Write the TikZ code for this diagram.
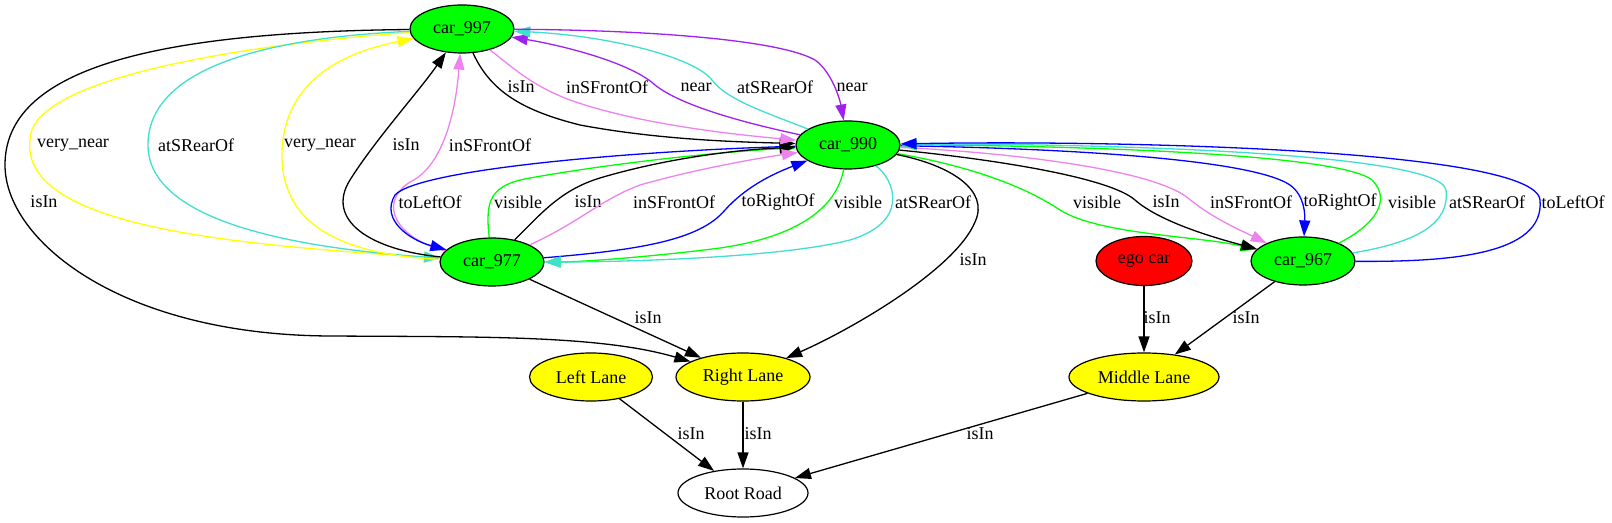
\documentclass[tikz,border=0pt]{standalone}
\usepackage{fontspec}
\setmainfont{Liberation Serif}
\usetikzlibrary{shapes.geometric, arrows.meta}
\definecolor{gvgreen}{HTML}{00FF00}
\definecolor{gvyellow}{HTML}{FFFF00}
\definecolor{gvred}{HTML}{FF0000}
\definecolor{gvturq}{HTML}{40E0D0}
\definecolor{gvviolet}{HTML}{EE82EE}
\definecolor{gvpurple}{HTML}{A020F0}
\definecolor{gvblue}{HTML}{0000FF}

\begin{document}
\begin{tikzpicture}[
    x=0.5pt, y=0.5pt,
    >={Triangle[length=8pt,width=5.5pt]},
    font=\fontsize{9}{11}\selectfont,
    base/.style={draw, ellipse, line width=0.6pt, inner sep=0pt, minimum height=24pt},
    car/.style={base, fill=gvgreen, minimum width=52pt},
    ego/.style={base, fill=gvred, minimum width=48pt, minimum height=24.5pt},
    lane/.style={base, fill=gvyellow},
    road/.style={base, fill=white, minimum width=65pt},
    rel/.style={->, line width=0.65pt},
    lbl/.style={text=black, inner sep=1pt}
  ]
    \path[use as bounding box, fill=white] (0,0) rectangle (1612,-523);
    \node[car] (car997) at (462,-29) {car\_997};
    \node[car] (car990) at (848,-145) {car\_990};
    \node[car] (car977) at (492,-262) {car\_977};
    \node[car] (car967) at (1303,-261) {car\_967};
    \node[ego] (egocar) at (1144,-261) {ego car};
    \node[lane, minimum width=61.5pt] (leftlane) at (591,-377) {Left Lane};
    \node[lane, minimum width=67pt] (rightlane) at (743,-377) {Right Lane};
    \node[lane, minimum width=75pt] (middlelane) at (1144,-377) {Middle Lane};
    \node[road] (rootroad) at (743,-493) {Root Road};
    \draw[rel] (car997) .. controls (150,-32) and (5,-70) .. (5,-165) .. controls (5,-240) and (120,-335) .. (330,-336) .. controls (480,-337) and (600,-335) .. (rightlane) node[lbl] at (44,-202) {isIn};
    \draw[rel, gvyellow] (car997) .. controls (300,-40) and (30,-70) .. (30,-140) .. controls (20,-230) and (250,-245) .. (car977) node[lbl] at (73,-145) {very\_near};
    \draw[rel, gvturq] (car997) .. controls (260,-38) and (148,-70) .. (148,-145) .. controls (148,-230) and (330,-250) .. (car977) node[lbl] at (196,-145) {atSRearOf};
    \draw[rel, gvyellow] (car977) .. controls (350,-255) and (285,-230) .. (282,-160) .. controls (280,-90) and (330,-55) .. (car997) node[lbl] at (320,-145) {very\_near};
    \draw[rel] (car977) .. controls (370,-250) and (325,-220) .. (350,-180) .. controls (375,-140) and (420,-90) .. (car997) node[lbl] at (406,-145) {isIn};
    \draw[rel, gvviolet] (car977) .. controls (400,-240) and (375,-205) .. (410,-182) .. controls (440,-168) and (455,-120) .. (car997) node[lbl] at (490,-145) {inSFrontOf};
    \draw[rel, gvblue] (car990) .. controls (650,-150) and (420,-168) .. (395,-195) .. controls (380,-220) and (410,-240) .. (car977) node[lbl] at (430,-202) {toLeftOf};
    \draw[rel, gvgreen] (car977) .. controls (485,-200) and (490,-185) .. (530,-178) .. controls (620,-162) and (720,-152) .. (car990) node[lbl] at (518,-202) {visible};
    \draw[rel] (car977) .. controls (540,-215) and (560,-190) .. (600,-178) .. controls (660,-160) and (730,-150) .. (car990) node[lbl] at (588,-202) {isIn};
    \draw[rel, gvviolet] (car977) .. controls (580,-222) and (600,-200) .. (640,-185) .. controls (700,-168) and (760,-158) .. (car990) node[lbl] at (674,-202) {inSFrontOf};
    \draw[rel, gvblue] (car977) .. controls (640,-250) and (700,-240) .. (725,-210) .. controls (745,-188) and (770,-175) .. (car990) node[lbl] at (778,-202) {toRightOf};
    \draw[rel, gvgreen] (car990) .. controls (838,-200) and (810,-235) .. (720,-248) .. controls (650,-257) and (580,-262) .. (car977) node[lbl] at (858,-202) {visible};
    \draw[rel, gvturq] (car990) .. controls (895,-180) and (910,-222) .. (850,-240) .. controls (780,-258) and (620,-262) .. (car977) node[lbl] at (933,-202) {atSRearOf};
    \draw[rel] (car997) .. controls (490,-90) and (520,-110) .. (580,-125) .. controls (660,-140) and (740,-142) .. (car990) node[lbl] at (521,-87) {isIn};
    \draw[rel, gvviolet] (car997) .. controls (510,-65) and (530,-85) .. (570,-100) .. controls (640,-125) and (740,-135) .. (car990) node[lbl] at (607,-87) {inSFrontOf};
    \draw[rel, gvpurple] (car990) .. controls (740,-122) and (680,-105) .. (655,-85) .. controls (630,-62) and (560,-45) .. (car997) node[lbl] at (696,-87) {near};
    \draw[rel, gvturq] (car990) .. controls (765,-112) and (727,-100) .. (712,-80) .. controls (692,-55) and (600,-35) .. (car997) node[lbl] at (775,-87) {atSRearOf};
    \draw[rel, gvpurple] (car997) .. controls (650,-30) and (780,-40) .. (815,-60) .. controls (832,-72) and (840,-100) .. (car990) node[lbl] at (852,-87) {near};
    \draw[rel, gvgreen] (car990) .. controls (980,-168) and (1030,-190) .. (1060,-210) .. controls (1100,-235) and (1200,-236) .. (car967) node[lbl] at (1097,-202) {visible};
    \draw[rel] (car990) .. controls (1000,-160) and (1110,-178) .. (1135,-200) .. controls (1160,-222) and (1215,-238) .. (car967) node[lbl] at (1166,-202) {isIn};
    \draw[rel, gvviolet] (car990) .. controls (1000,-152) and (1150,-168) .. (1188,-198) .. controls (1212,-218) and (1240,-230) .. (car967) node[lbl] at (1251,-202) {inSFrontOf};
    \draw[rel, gvblue] (car990) .. controls (1050,-148) and (1250,-158) .. (1290,-185) .. controls (1305,-196) and (1305,-215) .. (car967) node[lbl] at (1340,-202) {toRightOf};
    \draw[rel, gvgreen] (car967) .. controls (1375,-225) and (1392,-200) .. (1372,-180) .. controls (1335,-150) and (1000,-145) .. (car990) node[lbl] at (1412,-202) {visible};
    \draw[rel, gvturq] (car967) .. controls (1420,-242) and (1450,-222) .. (1446,-190) .. controls (1440,-150) and (1050,-143) .. (car990) node[lbl] at (1487,-202) {atSRearOf};
    \draw[rel, gvblue] (car967) .. controls (1450,-262) and (1545,-255) .. (1540,-200) .. controls (1535,-148) and (1100,-140) .. (car990) node[lbl] at (1573,-202) {toLeftOf};
    \draw[rel] (car990) .. controls (950,-165) and (990,-190) .. (975,-222) .. controls (955,-270) and (850,-330) .. (rightlane) node[lbl] at (973,-260) {isIn};
    \draw[rel] (car977) -- (rightlane) node[lbl] at (648,-318) {isIn};
    \draw[rel] (egocar) -- (middlelane) node[lbl] at (1157,-318) {isIn};
    \draw[rel] (car967) -- (middlelane) node[lbl] at (1246,-318) {isIn};
    \draw[rel] (leftlane) -- (rootroad) node[lbl] at (691,-434) {isIn};
    \draw[rel] (rightlane) -- (rootroad) node[lbl] at (758,-434) {isIn};
    \draw[rel] (middlelane) -- (rootroad) node[lbl] at (980,-434) {isIn};
  \end{tikzpicture}
\end{document}
